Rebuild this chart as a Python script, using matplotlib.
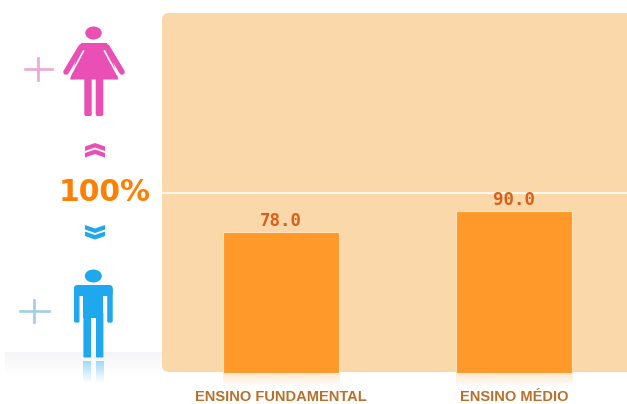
import numpy as np
import matplotlib
matplotlib.use("Agg")
import matplotlib.pyplot as plt
from matplotlib.colors import to_rgb
from matplotlib.patches import Ellipse, FancyBboxPatch, Polygon, Rectangle

# dados do grafico
categorias = ["ENSINO FUNDAMENTAL", "ENSINO MÉDIO"]
valores = [78.0, 90.0]
referencia = 100
rotulo_referencia = "100%"

W, H = 627, 404
PAINEL = "#fbd8a9"
BARRA = "#ff9a2a"
ROSA = "#e94fb4"
AZUL = "#1fa8ee"


def gradiente(ax, extent, cor, a_ini, a_fim, zorder=1):
    # faixa vertical que vai de a_ini (topo) ate a_fim (base)
    img = np.ones((64, 2, 4))
    img[:, :, :3] = to_rgb(cor)
    img[:, :, 3] = np.linspace(a_ini, a_fim, 64)[:, None]
    ax.imshow(img, extent=extent, aspect="auto", zorder=zorder,
              origin="upper", interpolation="bilinear", clip_on=False)


def barra_redonda(ax, x0, y0, x1, y1, cor, r=1.8):
    ax.add_patch(FancyBboxPatch((x0 + r, y0 + r), x1 - x0 - 2 * r, y1 - y0 - 2 * r,
                                boxstyle=f"round,pad={r},rounding_size={r}",
                                fc=cor, ec="none", zorder=4))


def divisa(ax, xc, ytopo, cor, para_cima=True):
    # duas setinhas empilhadas
    for dy in (0, 6.5):
        if para_cima:
            pts = [(xc - 10, ytopo + dy + 3.5), (xc, ytopo + dy), (xc + 10, ytopo + dy + 3.5),
                   (xc + 10, ytopo + dy + 8), (xc, ytopo + dy + 4.5), (xc - 10, ytopo + dy + 8)]
        else:
            pts = [(xc - 10, ytopo + dy), (xc, ytopo + dy + 3.5), (xc + 10, ytopo + dy),
                   (xc + 10, ytopo + dy + 4.5), (xc, ytopo + dy + 8), (xc - 10, ytopo + dy + 4.5)]
        ax.add_patch(Polygon(pts, closed=True, fc=cor, ec="none", zorder=4))


def mulher(ax):
    ax.add_patch(Ellipse((93.5, 33), 16.5, 13, fc=ROSA, ec="none", zorder=4))
    ax.plot([81, 66], [47, 72], color=ROSA, lw=4, solid_capstyle="round", zorder=4)
    ax.plot([107, 122], [47, 72], color=ROSA, lw=4, solid_capstyle="round", zorder=4)
    ax.add_patch(Polygon([(81, 43), (107, 43), (118.5, 79.5), (70, 79.5)], closed=True,
                         fc=ROSA, ec="none", zorder=4))
    ax.plot([83.5, 71], [51, 74], color="white", lw=1.2, zorder=5)
    ax.plot([104.5, 117], [51, 74], color="white", lw=1.2, zorder=5)
    barra_redonda(ax, 84.3, 78, 91.7, 116, ROSA)
    barra_redonda(ax, 95.7, 78, 103.3, 116, ROSA)


def homem(ax):
    ax.add_patch(Ellipse((93.3, 276), 17, 13, fc=AZUL, ec="none", zorder=4))
    barra_redonda(ax, 74, 285, 112.7, 296, AZUL, r=3.5)
    barra_redonda(ax, 74, 288, 79.5, 322.7, AZUL)
    barra_redonda(ax, 107.2, 288, 112.7, 322.7, AZUL)
    ax.add_patch(Rectangle((83.4, 288), 20, 30, fc=AZUL, ec="none", zorder=4))
    barra_redonda(ax, 83.4, 312, 91, 357.5, AZUL, r=1)
    barra_redonda(ax, 96, 312, 103.4, 357.5, AZUL, r=1)
    # reflexo das pernas
    gradiente(ax, (83.4, 91, 383, 361), AZUL, 0.4, 0)
    gradiente(ax, (96, 103.4, 383, 361), AZUL, 0.4, 0)


def cruz(ax, xc, yc, meia_x, meia_y, cor):
    ax.plot([xc - meia_x, xc + meia_x], [yc, yc], color=cor, lw=1.9, zorder=3)
    ax.plot([xc, xc], [yc - meia_y, yc + meia_y], color=cor, lw=1.9, zorder=3)


fig = plt.figure(figsize=(W / 100, H / 100), dpi=100, facecolor="white")

# camada de fundo em pixels: painel, bonecos e o 100%
fundo = fig.add_axes([0, 0, 1, 1])
gradiente(fundo, (5, 165, 374, 352), "#e9ebee", 0.5, 0, zorder=1)
fundo.add_patch(FancyBboxPatch((169, 20), 480, 345,
                               boxstyle="round,pad=7,rounding_size=7",
                               fc=PAINEL, ec="none", zorder=2))
mulher(fundo)
homem(fundo)
cruz(fundo, 38, 68.5, 13.5, 11, "#eba8d6")
cruz(fundo, 34, 311, 14.5, 11, "#9fcfe6")
divisa(fundo, 95, 143, ROSA, para_cima=True)
divisa(fundo, 95, 225, AZUL, para_cima=False)
fundo.text(105, 192.5, rotulo_referencia, ha="center", va="center", color="#ff8000",
           fontsize=21.5, fontweight="bold", family="DejaVu Sans", zorder=4)
fundo.set_xlim(0, W)
fundo.set_ylim(H, 0)
fundo.axis("off")

# grafico de barras sobre o painel
ax = fig.add_axes([162 / W, 1 - 372.7 / H, 465 / W, 359.7 / H], facecolor="none")
pos = np.arange(len(valores))
ax.bar(pos, valores, width=0.5, color=BARRA, edgecolor="#fde3bd", linewidth=0.8, zorder=3)
ax.axhline(referencia, color="#fff6ea", lw=1.5, zorder=2)
for p, v in zip(pos, valores):
    ax.annotate(f"{v:.1f}", (p, v), xytext=(0, 1.5), textcoords="offset points",
                ha="center", va="bottom", color="#d9601a", fontsize=12.5,
                fontweight="bold", family="DejaVu Sans Mono")
    gradiente(ax, (p - 0.25, p + 0.25, -8, 0), BARRA, 0.25, 0, zorder=1)

ax.set_xlim(-0.513, 1.487)
ax.set_ylim(0, 200)
ax.set_yticks([])
ax.set_xticks(pos)
ax.set_xticklabels(categorias, fontsize=10.5, fontweight="bold", color="#b8702a",
                   family=["Liberation Sans Narrow", "Liberation Sans"])
ax.tick_params(axis="x", length=0, pad=12.5)
for lado in ax.spines.values():
    lado.set_visible(False)

fig.savefig("out.png", dpi=100)
plt.close(fig)
